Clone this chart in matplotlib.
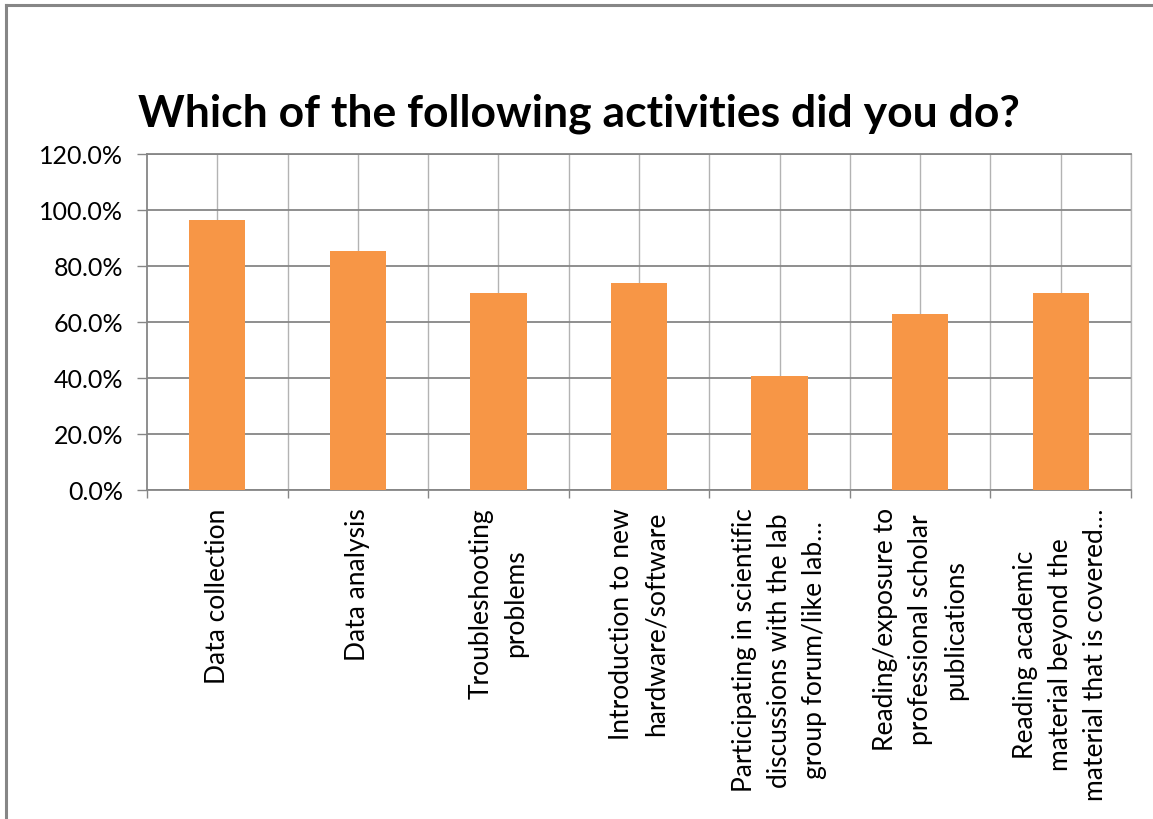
import matplotlib
matplotlib.use('Agg')
import matplotlib.pyplot as plt
from matplotlib.lines import Line2D
from matplotlib.ticker import FixedLocator, FuncFormatter, MultipleLocator
import numpy as np

# Survey answers: share of students who did each activity (%)
activities = [
    'Data collection',
    'Data analysis',
    'Troubleshooting\nproblems',
    'Introduction to new\nhardware/software',
    'Participating in scientific\ndiscussions with the lab\ngroup forum/like lab\u2026',
    'Reading/exposure to\nprofessional scholar\npublications',
    'Reading academic\nmaterial beyond the\nmaterial that is covered\u2026',
]
pct_done = [96.3, 85.2, 70.4, 74.1, 40.7, 63.0, 70.4]

title = 'Which of the following activities did you do?'

plt.rcParams['font.family'] = ['Lato', 'DejaVu Sans']

W, H = 1153, 820
fig = plt.figure(figsize=(W / 100, H / 100), dpi=100)
fig.patch.set_facecolor('white')

# plot area in pixels: x 147..1131, y 155..491
ax = fig.add_axes([147 / W, 1 - 491 / H, (1131 - 147) / W, (491 - 155) / H])

x = np.arange(len(activities))
ax.bar(x, pct_done, width=0.4, color='#F79646', zorder=3)

ax.set_xlim(-0.5, len(activities) - 0.5)
ax.set_ylim(0, 120)

# y axis: 0..120 % every 20
ax.yaxis.set_major_locator(MultipleLocator(20))
ax.yaxis.set_major_formatter(FuncFormatter(lambda v, pos: f'{v:.1f}%'))
ax.tick_params(axis='y', length=7, width=1, color='#868686', pad=10,
               labelsize=18, labelcolor='black')

# x axis: labels at centres, tick marks at category boundaries
ax.set_xticks(x)
ax.set_xticklabels(activities, rotation=90, ha='center', va='top',
                   multialignment='center', linespacing=1.5)
ax.xaxis.set_minor_locator(FixedLocator(np.arange(-0.5, len(activities), 1.0)))
ax.tick_params(axis='x', which='major', length=0, pad=12.5, labelsize=19)
ax.tick_params(axis='x', which='minor', length=6, width=1, color='#868686')

# gridlines: dark horizontals, light verticals at centres and boundaries
ax.grid(axis='y', color='#868686', linewidth=1.3, zorder=1)
for xv in np.arange(-0.5, len(activities), 0.5)[1:]:
    ax.axvline(xv, color='#b3b3b3', linewidth=1.0, zorder=1)

for side in ['left', 'bottom', 'top']:
    ax.spines[side].set_color('#868686')
    ax.spines[side].set_linewidth(1.3)
ax.spines['right'].set_color('#b3b3b3')
ax.spines['right'].set_linewidth(1.0)

fig.text(579 / W, 1 - 126 / H, title, ha='center', va='baseline',
         fontsize=32, fontweight='bold', color='black')

# chart frame (left and top edges)
fig.add_artist(Line2D([5.5 / W, 5.5 / W], [0, 1 - 6 / H], transform=fig.transFigure,
                      color='#868686', linewidth=2.2))
fig.add_artist(Line2D([5.5 / W, 1], [1 - 6 / H, 1 - 6 / H], transform=fig.transFigure,
                      color='#868686', linewidth=2.2))

fig.savefig('out.png', dpi=100)
print('saved out.png')
